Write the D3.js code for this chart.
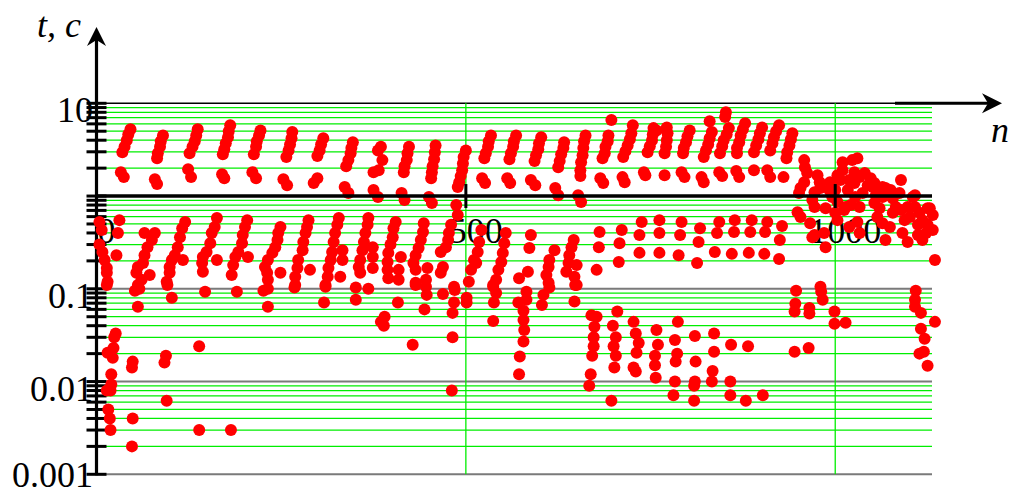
<!DOCTYPE html>
<html>
<head>
<meta charset="utf-8">
<script src="https://cdn.jsdelivr.net/npm/d3@7/dist/d3.min.js"></script>
<style>
  body { margin: 0; background: #fff; }
  svg { display: block; }
</style>
</head>
<body>
<div id="chart"></div>
<script>
// axis settings
const xTicks = [0, 500, 1000];
const yLabelTicks = [10, 0.1, 0.01, 0.001];

// [n, value]
// upper streaks, between 1 and 10
const bandHigh = [
  [46,5.25],[43,4.6],[41,4.0],[38,3.4],[35,2.97],[33,1.81],[37,1.6],
  [90,4.5],[87,3.9],[86,3.4],[83,2.9],[82,2.56],[79,1.52],[82,1.35],
  [137,5.25],[135,4.5],[133,3.9],[130,3.4],[126,2.9],[124,1.95],[128,1.6],
  [181,5.8],[179,5.0],[178,4.3],[175,3.7],[173,3.2],[171,2.83],[170,1.72],[173,1.56],
  [222,5.1],[220,4.5],[217,3.9],[216,3.4],[213,2.83],[211,1.81],[216,1.56],
  [265,4.9],[264,4.2],[262,3.6],[260,3.1],[257,2.63],[253,1.52],[258,1.31],
  [307,4.2],[304,3.6],[302,3.1],[299,2.7],[299,1.56],[294,1.38],
  [347,3.8],[345,3.3],[344,2.9],[341,2.44],[338,2.1],[336,1.25],[341,1.08],
  [381,3.1],[385,3.4],[387,2.44],[382,1.9],[375,1.81],[375,1.16],[381,0.975],
  [423,3.4],[421,2.9],[420,2.44],[417,2.1],[416,1.81],[413,1.08],[417,0.906],
  [459,3.5],[458,2.97],[457,2.5],[455,2.1],[454,1.81],[453,1.56],[450,0.975],[454,0.84],
  [500,3.1],[497,2.63],[496,2.25],[495,1.9],[493,1.64],[491,1.41],[489,1.25],[487,0.8],[489,0.625],
  [534,4.5],[531,3.9],[530,3.4],[527,2.9],[525,2.56],[522,1.56],[526,1.38],
  [568,4.5],[565,3.9],[564,3.4],[561,2.9],[559,2.5],[556,1.56],[560,1.38],
  [602,4.3],[599,3.7],[598,3.2],[595,2.76],[593,2.38],[588,1.49],[594,1.31],
  [633,3.8],[632,3.3],[629,2.83],[627,2.38],[625,2.05],[621,1.22],[625,1.02],
  [662,4.5],[660,3.9],[659,3.3],[658,2.76],[656,2.32],[655,1.9],[655,1.64],[652,1.02],[656,0.862],
  [693,4.5],[692,3.9],[689,3.4],[688,2.9],[685,2.56],[697,6.6],[682,1.56],[686,1.38],
  [724,4.75],[722,4.1],[719,3.5],[716,3.05],[713,2.63],[726,5.8],[712,1.6],[715,1.41],
  [754,5.4],[753,4.6],[752,4.0],[749,3.45],[746,2.97],[758,5.1],[741,1.81],[743,1.68],
  [772,5.5],[773,4.75],[772,4.0],[771,3.4],[769,2.9],[769,1.68],
  [803,5.1],[800,4.4],[798,3.8],[795,3.3],[794,2.9],[792,1.81],[796,1.6],
  [833,4.9],[830,4.2],[828,3.6],[825,3.1],[822,2.63],[830,6.4],[819,1.6],[822,1.41],
  [856,5.4],[853,4.6],[849,4.0],[847,3.45],[844,2.9],[852,8.0],[851,7.1],[843,1.81],[847,1.64],
  [878,6.1],[875,5.25],[872,4.5],[870,3.8],[867,3.3],[867,2.9],[866,1.86],[870,1.6],
  [901,5.5],[898,4.75],[896,4.1],[893,3.5],[890,2.97],[890,1.9],
  [924,5.8],[920,5.0],[917,4.3],[915,3.7],[912,3.1],[908,1.9],[912,1.6],
  [942,4.75],[940,4.1],[938,3.5],[935,2.97],[934,2.56],[930,1.6]
];

// scattered cloud at the right end
const bandCloud = [
  [958,2.44],[959,2.05],[962,1.77],[958,1.41],[953,1.22],[951,1.08],[976,1.68],[979,1.41],
  [980,1.22],[972,1.1],[969,0.906],[972,0.76],[949,0.67],[953,0.595],[966,0.51],[972,0.38],
  [985,0.4],[987,0.28],[992,1.16],[993,1.41],[1003,1.68],[1010,2.32],[1010,1.9],[1023,2.44],
  [1026,1.81],[1019,1.49],[1007,1.49],[1000,1.16],[996,0.975],[1003,0.862],[987,0.74],[1000,0.66],
  [1003,0.55],[1017,1.16],[1026,1.38],[1033,1.6],[1040,1.77],[1044,1.31],[1037,1.08],[1027,0.975],
  [1021,0.8],[1014,0.76],[1033,0.76],[1030,0.525],[1033,0.4],[1019,0.465],[1051,1.25],[1055,1.02],
  [1053,0.84],[1064,1.25],[1075,1.16],[1064,0.975],[1060,0.74],[1057,0.595],[1064,0.51],[1068,0.336],
  [1074,0.465],[1078,0.66],[1082,0.76],[1089,1.49],[1087,1.08],[1089,0.707],[1094,0.55],[1101,0.595],
  [1105,0.975],[1108,0.76],[1098,0.76],[1091,0.4],[1098,0.32],[1112,0.38],[1118,0.336],[1123,0.4],
  [1128,0.74],[1132,0.625],[1132,0.43],[1135,0.205],[1118,0.55],[1114,0.66],[1030,2.56],[1053,1.38],
  [1068,1.22],[1108,1.02],[1125,0.74],[969,0.36],[1012,0.707],[1048,1.56],[1078,0.94],[1112,0.49],
  [1125,0.49]
];

// lower streaks, between 0.1 and 1
const bandMid = [
  [4,0.525],[7,0.43],[4,0.3],[8,0.25],[11,0.205],[14,0.168],[14,0.149],[15,0.119],[31,0.55],[29,0.4],[27,0.23],[14,0.11],
  [79,0.4],[75,0.336],[69,0.28],[65,0.23],[63,0.19],[56,0.172],[54,0.149],[61,0.125],[56,0.11],[72,0.141],[65,0.4],
  [120,0.525],[116,0.45],[113,0.36],[110,0.28],[106,0.23],[102,0.205],[99,0.172],[99,0.149],[95,0.119],[117,0.205],
  [163,0.58],[160,0.465],[156,0.4],[154,0.31],[149,0.25],[144,0.22],[143,0.19],[144,0.153],[163,0.205],
  [204,0.55],[201,0.465],[198,0.38],[197,0.31],[192,0.25],[188,0.22],[185,0.18],[183,0.141],[205,0.22],
  [249,0.465],[246,0.4],[245,0.336],[242,0.28],[238,0.244],[232,0.205],[228,0.172],[231,0.149],[249,0.149],[232,0.125],
  [287,0.55],[285,0.465],[283,0.4],[280,0.32],[279,0.26],[273,0.205],[272,0.168],[269,0.135],[289,0.16],[269,0.11],
  [328,0.58],[326,0.49],[323,0.4],[321,0.32],[319,0.25],[317,0.205],[314,0.168],[313,0.135],[310,0.11],[333,0.26],[333,0.205],[330,0.135],
  [368,0.58],[367,0.49],[364,0.4],[362,0.32],[360,0.26],[357,0.205],[355,0.172],[357,0.149],[374,0.28],[374,0.22],[374,0.168],
  [405,0.525],[402,0.45],[401,0.36],[398,0.3],[395,0.244],[394,0.195],[394,0.16],[395,0.13],[412,0.22],[409,0.16],[409,0.125],
  [443,0.51],[442,0.41],[439,0.336],[436,0.276],[432,0.23],[429,0.19],[432,0.16],[448,0.168],[446,0.125],[432,0.116],
  [480,0.49],[477,0.4],[476,0.336],[473,0.28],[466,0.25],[469,0.172],[466,0.149],[484,0.105],
  [521,0.43],[518,0.32],[516,0.25],[511,0.205],[507,0.16],[504,0.119],[514,0.19],
  [554,0.4],[552,0.31],[550,0.244],[548,0.195],[544,0.16],[541,0.125],[537,0.105],
  [588,0.38],[586,0.276],[584,0.153],[572,0.13],
  [620,0.26],[613,0.205],[612,0.172],[609,0.141],[612,0.116],
  [646,0.336],[643,0.28],[640,0.23],[639,0.19],[636,0.153],[650,0.18],[647,0.135],[650,0.11],
  [681,0.41],[680,0.28],[677,0.16],[711,0.43],[708,0.31],[707,0.195],[738,0.525],[735,0.38],[735,0.244],
  [762,0.55],[762,0.4],[762,0.244],[792,0.525],[790,0.38],[788,0.23],[817,0.45],[815,0.32],[813,0.19],
  [843,0.525],[840,0.4],[837,0.25],[864,0.55],[863,0.41],[860,0.238],[887,0.55],[885,0.41],[883,0.244],
  [908,0.525],[905,0.41],[904,0.238],[928,0.475],[925,0.336],[924,0.21]
];

// points below 0.1
const bandLow = [
  [52,0.095],[58,0.1],[56,0.064],[96,0.11],[102,0.08],[147,0.093],[190,0.093],[226,0.095],[232,0.1],[232,0.064],
  [268,0.103],[310,0.105],[308,0.071],[351,0.103],[351,0.076],[368,0.1],[385,0.044],
  [26,0.033],[24,0.03],[23,0.023],[15,0.0205],[22,0.018],[139,0.024],[49,0.0164],[48,0.0142],[94,0.019],[92,0.016],
  [20,0.012],[20,0.0093],[14,0.008],[19,0.008],[95,0.0062],[16,0.005],[18,0.004],[49,0.004],[19,0.003],[139,0.003],
  [182,0.003],[48,0.002],
  [432,0.11],[446,0.105],[447,0.086],[408,0.071],[444,0.06],[469,0.088],[485,0.097],[484,0.071],[482,0.055],
  [501,0.08],[501,0.071],[390,0.05],[389,0.04],[428,0.025],[482,0.03],[481,0.008],[537,0.11],[541,0.09],
  [538,0.071],[537,0.045],[582,0.093],[582,0.076],[571,0.071],[578,0.058],[578,0.046],[579,0.036],[578,0.027],
  [573,0.0186],[572,0.012],[605,0.086],[603,0.067],[613,0.103],[648,0.11],[647,0.073],
  [670,0.052],[677,0.05],[674,0.039],[673,0.03],[673,0.024],[671,0.019],[669,0.012],[667,0.009],
  [705,0.057],[699,0.04],[703,0.03],[700,0.024],[703,0.019],[701,0.0142],[697,0.0062],
  [727,0.044],[730,0.033],[734,0.026],[731,0.0205],[727,0.0142],[730,0.0128],
  [758,0.036],[760,0.025],[756,0.019],[756,0.015],[757,0.011],
  [787,0.044],[783,0.028],[786,0.02],[784,0.0164],[783,0.01],[781,0.0071],
  [810,0.031],[811,0.0164],[810,0.01],[809,0.009],[809,0.0062],
  [836,0.033],[836,0.021],[834,0.013],[833,0.01],[859,0.025],[882,0.024],[858,0.01],[858,0.0071],[879,0.0062],[902,0.0071],
  [947,0.095],[946,0.069],[945,0.057],[965,0.062],[965,0.054],[945,0.021],[964,0.023],[980,0.105],[981,0.093],
  [983,0.076],[999,0.057],[999,0.042],[1014,0.043],
  [1109,0.095],[1108,0.076],[1108,0.064],[1116,0.055],[1135,0.044],[1116,0.037],[1121,0.029],[1120,0.021],
  [1114,0.02],[1125,0.0148]
];

var width = 1013, height = 494;
var font = "'Liberation Serif','Times New Roman',serif";

var x = d3.scaleLinear().domain([0, 1131]).range([96.5, 932]);
var y = d3.scaleLog().domain([0.001, 10]).range([474.3, 103.3]);

var svg = d3.select("#chart").append("svg")
  .attr("width", width)
  .attr("height", height);

var xLeft = x(0), xRight = x(1131);

// horizontal grid: green at the 2..9 steps, grey at decades
var allTicks = y.ticks();
var grid = svg.append("g").attr("class", "grid");
grid.selectAll("line.minor")
  .data(allTicks.filter(function(d){ return Math.abs(Math.log10(d) - Math.round(Math.log10(d))) > 1e-6; }))
  .enter().append("line")
  .attr("x1", xLeft).attr("x2", xRight)
  .attr("y1", function(d){ return y(d); }).attr("y2", function(d){ return y(d); })
  .style("stroke", "#00ee00").style("stroke-width", 1.3);

grid.selectAll("line.major")
  .data([0.001, 0.01, 0.1])
  .enter().append("line")
  .attr("x1", xLeft).attr("x2", xRight)
  .attr("y1", function(d){ return y(d); }).attr("y2", function(d){ return y(d); })
  .style("stroke", "#7a7a7a").style("stroke-width", 2);

grid.append("line")
  .attr("x1", xLeft).attr("x2", xRight)
  .attr("y1", y(10)).attr("y2", y(10))
  .style("stroke", "#000").style("stroke-width", 1.6);

// vertical grid at 500 and 1000
grid.selectAll("line.v")
  .data(xTicks.filter(function(d){ return d > 0; }))
  .enter().append("line")
  .attr("x1", function(d){ return x(d); }).attr("x2", function(d){ return x(d); })
  .attr("y1", y(10)).attr("y2", y(0.001))
  .style("stroke", "#00ee00").style("stroke-width", 1.3);

// y axis with arrow
var yAxis = svg.append("g").attr("class", "y axis");
yAxis.append("line")
  .attr("x1", xLeft).attr("x2", xLeft)
  .attr("y1", y(0.001) + 1).attr("y2", 38)
  .style("stroke", "#000").style("stroke-width", 3.2);
yAxis.append("path")
  .attr("d", "M" + xLeft + ",27 L" + (xLeft + 9.5) + ",46 L" + xLeft + ",40 L" + (xLeft - 9.5) + ",46 Z")
  .style("fill", "#000");
yAxis.selectAll("line.tick")
  .data(allTicks)
  .enter().append("line")
  .attr("x1", xLeft - 10).attr("x2", xLeft + 10)
  .attr("y1", function(d){ return y(d); }).attr("y2", function(d){ return y(d); })
  .style("stroke", "#000").style("stroke-width", 3);
yAxis.selectAll("text")
  .data(yLabelTicks)
  .enter().append("text")
  .attr("x", 93)
  .attr("y", function(d){ return Math.min(y(d) + 19, 487); })
  .attr("text-anchor", "end")
  .style("font-family", font).style("font-size", "36px")
  .text(function(d){ return d3.format("~g")(d); });

svg.append("text")
  .attr("x", 37).attr("y", 37)
  .style("font-family", font).style("font-size", "36px").style("font-style", "italic")
  .text("t, c");

// x tick labels (under the dots)
svg.append("g").selectAll("text")
  .data(xTicks)
  .enter().append("text")
  .attr("x", function(d){ return x(d) + 10; })
  .attr("y", 243)
  .attr("text-anchor", "middle")
  .style("font-family", font).style("font-size", "36px")
  .text(function(d){ return d; });

// dots
var allPoints = bandHigh.concat(bandCloud, bandMid, bandLow);
svg.append("g").attr("class", "dots")
  .selectAll("circle")
  .data(allPoints)
  .enter().append("circle")
  .attr("cx", function(d){ return x(d[0]); })
  .attr("cy", function(d){ return y(d[1]); })
  .attr("r", 6)
  .style("fill", "#ff0000");

// x axis on the value 1, drawn over the dots
var xAxis = svg.append("g").attr("class", "x axis");
xAxis.append("line")
  .attr("x1", xLeft).attr("x2", xRight)
  .attr("y1", y(1)).attr("y2", y(1))
  .style("stroke", "#000").style("stroke-width", 3.5);
xAxis.selectAll("line.tick")
  .data(xTicks.filter(function(d){ return d > 0; }))
  .enter().append("line")
  .attr("x1", function(d){ return x(d); }).attr("x2", function(d){ return x(d); })
  .attr("y1", y(1) - 12).attr("y2", y(1) + 12)
  .style("stroke", "#000").style("stroke-width", 3);

// n arrow at the top right
svg.append("line")
  .attr("x1", 895).attr("x2", 990)
  .attr("y1", y(10)).attr("y2", y(10))
  .style("stroke", "#000").style("stroke-width", 3);
svg.append("path")
  .attr("d", "M1002," + y(10) + " L982," + (y(10) - 10) + " L988," + y(10) + " L982," + (y(10) + 10) + " Z")
  .style("fill", "#000");
svg.append("text")
  .attr("x", 991).attr("y", 142)
  .style("font-family", font).style("font-size", "36px").style("font-style", "italic")
  .text("n");
</script>
</body>
</html>
